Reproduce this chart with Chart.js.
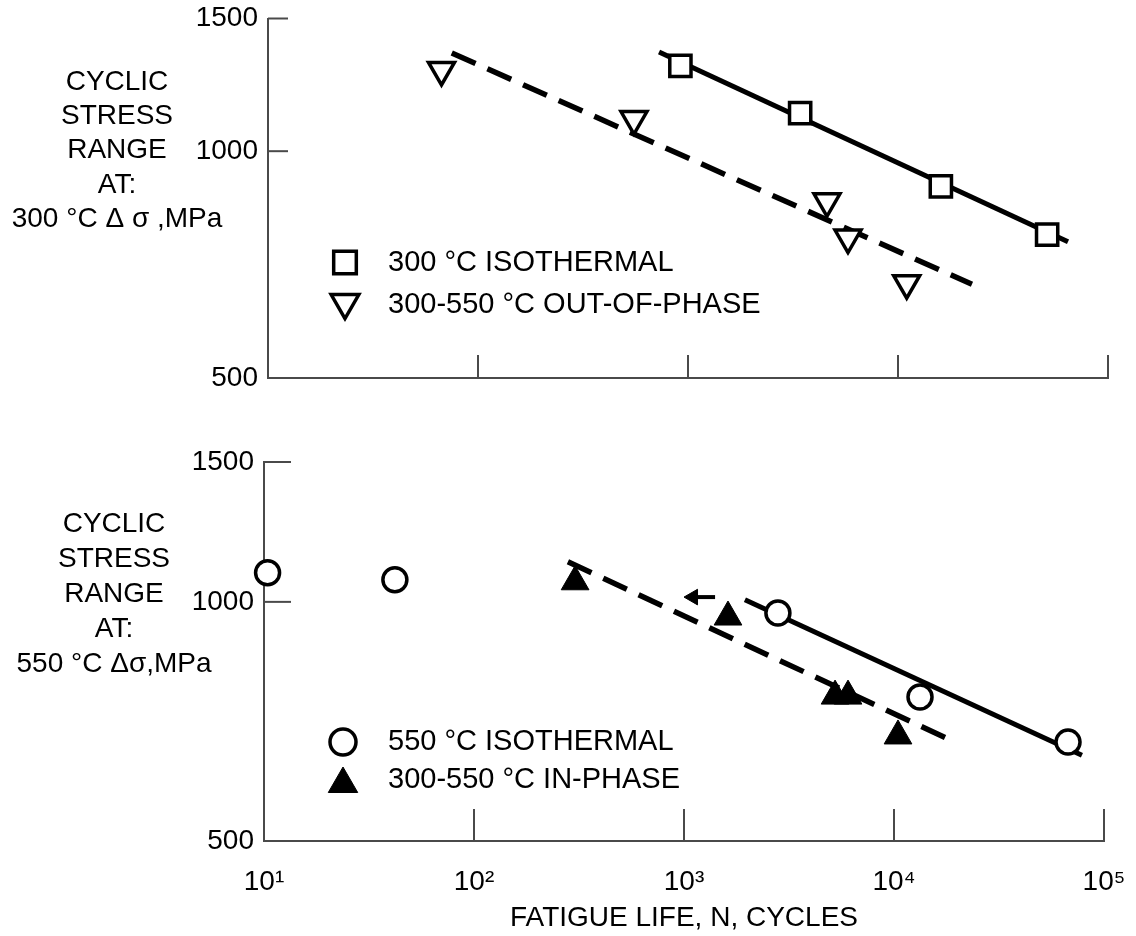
<!DOCTYPE html>
<html><head><meta charset="utf-8">
<script src="https://cdn.jsdelivr.net/npm/chart.js@4.4.1/dist/chart.umd.min.js"></script>
<style>
html,body{margin:0;padding:0;background:#fff;}
#wrap{position:relative;width:1136px;height:936px;}
canvas{position:absolute;left:0;display:block;}
</style></head><body>
<div id="wrap">
<canvas id="topChart" width="1136" height="440" style="top:0"></canvas>
<canvas id="botChart" width="1136" height="496" style="top:440px"></canvas>
</div>
<script>
// ---------------- data ----------------
const xTickValues = [10, 100, 1000, 10000, 100000];
const xTickLabels = ['10\u00B9', '10\u00B2', '10\u00B3', '10\u2074', '10\u2075'];
const yTickValues = [500, 1000, 1500];
const yTitleTop = ['CYCLIC', 'STRESS', 'RANGE', 'AT:', '300 \u00B0C \u0394 \u03C3 ,MPa'];
const yTitleBottom = ['CYCLIC', 'STRESS', 'RANGE', 'AT:', '550 \u00B0C \u0394\u03C3,MPa'];
const xTitle = 'FATIGUE LIFE, N, CYCLES';
const legendTop = ['300 \u00B0C ISOTHERMAL', '300-550 \u00B0C OUT-OF-PHASE'];
const legendBottom = ['550 \u00B0C ISOTHERMAL', '300-550 \u00B0C IN-PHASE'];

// top panel: 300 C
const iso300N = [920, 3420, 16000, 51300];
const iso300S = [1298, 1123, 898, 775];
const oop300N = [67, 553, 4590, 5780, 11000];
const oop300S = [1282, 1103, 858, 768, 668];
const iso300FitN = [728, 64500];
const iso300FitS = [1354, 758];
const oopFitN = [75, 22500];
const oopFitS = [1350, 666];

// bottom panel: 550 C
const iso550N = [10.4, 42, 2800, 13300, 67400];
const iso550S = [1088, 1066, 968, 759, 666];
const ip550N = [303, 1620, 5240, 6040, 10450];
const ip550S = [1060, 957, 761, 761, 678];
const iso550FitN = [1950, 78500];
const iso550FitS = [1006, 641];
const ipFitN = [280, 19500];
const ipFitS = [1123, 666];
const arrowN = [1406, 1104];
const arrowS = [1014, 1014];

// ---------------- helpers ----------------
const pts = (xs, ys) => xs.map((x, i) => ({x: x, y: ys[i]}));
const FONT = "'Liberation Sans', Arial, Helvetica, sans-serif";
const FS = 28;
const LEG_FS = 29;
const TXT = '#000';
const AXIS = '#4a4a4a';

function markerSet(data, style, radius, rotation, filled, bw) {
  return {
    data: data, showLine: false, order: 0, clip: false,
    pointStyle: style, pointRadius: radius, pointRotation: rotation,
    pointBorderWidth: bw, pointBorderColor: '#000',
    pointBackgroundColor: filled ? '#000' : '#fff',
    borderColor: '#000', backgroundColor: filled ? '#000' : '#fff'
  };
}
function lineSet(data, dashed) {
  return {
    data: data, showLine: true, order: 1, clip: false,
    pointRadius: 0, borderColor: '#000', borderWidth: dashed ? 5.5 : 5,
    borderDash: dashed ? [26, 13] : [], borderCapStyle: 'butt'
  };
}

const decor = {
  id: 'decor',
  afterDraw(chart, args, o) {
    const ctx = chart.ctx, a = chart.chartArea, xs = chart.scales.x, ys = chart.scales.y;
    ctx.save();
    ctx.strokeStyle = AXIS; ctx.lineWidth = 2;
    yTickValues.forEach(v => {
      const py = ys.getPixelForValue(v);
      if (Math.abs(py - a.bottom) < 1) return;
      ctx.beginPath(); ctx.moveTo(a.left, py); ctx.lineTo(a.left + o.yTickLen, py); ctx.stroke();
    });
    xTickValues.forEach(v => {
      const px = xs.getPixelForValue(v);
      if (Math.abs(px - a.left) < 1) return;
      ctx.beginPath(); ctx.moveTo(px, a.bottom); ctx.lineTo(px, a.bottom - o.xTickLen); ctx.stroke();
    });
    // multi-line y title
    ctx.fillStyle = TXT;
    ctx.font = FS + 'px ' + FONT;
    ctx.textAlign = 'center'; ctx.textBaseline = 'middle';
    o.title.forEach((line, i) => ctx.fillText(line, o.titleX, o.titleY + i * o.titleLH));
    // legend
    o.legend.forEach((item, i) => {
      const ds = chart.data.datasets[item.ds];
      const lx = a.left + o.legX, ly = a.top + o.legY + i * o.legLH;
      ctx.fillStyle = ds.pointBackgroundColor; ctx.strokeStyle = ds.pointBorderColor;
      ctx.lineWidth = ds.pointBorderWidth;
      Chart.helpers.drawPoint(ctx, {pointStyle: ds.pointStyle, radius: ds.pointRadius + 1,
        rotation: ds.pointRotation, borderWidth: ds.pointBorderWidth}, lx, ly);
      ctx.fillStyle = TXT; ctx.textAlign = 'left'; ctx.textBaseline = 'middle';
      ctx.font = LEG_FS + 'px ' + FONT;
      ctx.fillText(item.text, a.left + o.textX, ly + (item.dy || 0));
    });
    ctx.restore();
  }
};

function hiddenTicks(len) {
  return {display: true, drawOnChartArea: false, drawTicks: true, tickLength: len,
          tickColor: 'rgba(0,0,0,0)', color: 'rgba(0,0,0,0)'};
}

function makeOptions(p) {
  return {
    responsive: false, animation: false, events: [],
    layout: {padding: p.padding},
    plugins: {legend: {display: false}, tooltip: {enabled: false}, decor: p.decor},
    scales: {
      x: {
        type: 'logarithmic', min: 10, max: 100000,
        afterBuildTicks: s => { s.ticks = xTickValues.map(v => ({value: v})); },
        afterFit: s => { s.height = p.xHeight; },
        grid: hiddenTicks(24),
        border: {display: true, color: AXIS, width: 2},
        ticks: {display: p.xLabels, padding: 0, color: TXT, autoSkip: false, maxRotation: 0,
          font: {family: FONT, size: FS},
          callback: (v, i) => xTickLabels[i]},
        title: {display: p.xLabels, text: xTitle, color: TXT,
          font: {family: FONT, size: FS}, padding: {top: 0, bottom: 1}}
      },
      y: {
        type: 'logarithmic', min: 500, max: 1500,
        afterBuildTicks: s => { s.ticks = yTickValues.map(v => ({value: v})); },
        afterFit: s => { s.width = p.yWidth; },
        grid: hiddenTicks(10),
        border: {display: true, color: AXIS, width: 2},
        ticks: {padding: 0, color: TXT, autoSkip: false,
          font: {family: FONT, size: FS, lineHeight: 1},
          callback: v => String(v)}
      }
    }
  };
}

new Chart(document.getElementById('topChart'), {
  type: 'scatter',
  data: {datasets: [
    markerSet(pts(iso300N, iso300S), 'rect', 15, 0, false, 3.5),
    markerSet(pts(oop300N, oop300S), 'triangle', 15, 180, false, 3.5),
    lineSet(pts(iso300FitN, iso300FitS), false),
    lineSet(pts(oopFitN, oopFitS), true)
  ]},
  options: makeOptions({
    padding: {left: 0, right: 28, top: 14, bottom: 0},
    xHeight: 62, yWidth: 268, xLabels: false,
    decor: {yTickLen: 20, xTickLen: 23, title: yTitleTop, titleX: 117, titleY: 82, titleLH: 34.3,
      legend: [{ds: 0, text: legendTop[0]}, {ds: 1, text: legendTop[1], dy: 2}],
      legX: 77, legY: 244, legLH: 40, textX: 120}
  }),
  plugins: [decor]
});

new Chart(document.getElementById('botChart'), {
  type: 'scatter',
  data: {datasets: [
    markerSet(pts(iso550N, iso550S), 'circle', 12, 0, false, 3.5),
    markerSet(pts(ip550N, ip550S), 'triangle', 16, 0, true, 1),
    lineSet(pts(iso550FitN, iso550FitS), false),
    lineSet(pts(ipFitN, ipFitS), true),
    {data: pts(arrowN, arrowS), showLine: true, order: 1, clip: false,
     borderColor: '#000', borderWidth: 4,
     pointRadius: [0, 9], pointStyle: 'triangle', pointRotation: 270,
     pointBackgroundColor: '#000', pointBorderColor: '#000', pointBorderWidth: 1}
  ]},
  options: makeOptions({
    padding: {left: 0, right: 32, top: 22, bottom: 0},
    xHeight: 95, yWidth: 264, xLabels: true,
    decor: {yTickLen: 27, xTickLen: 32, title: yTitleBottom, titleX: 114, titleY: 84, titleLH: 35,
      legend: [{ds: 0, text: legendBottom[0]}, {ds: 1, text: legendBottom[1], dy: -4}],
      legX: 79, legY: 280, legLH: 42, textX: 124}
  }),
  plugins: [decor]
});
</script>
</body></html>
